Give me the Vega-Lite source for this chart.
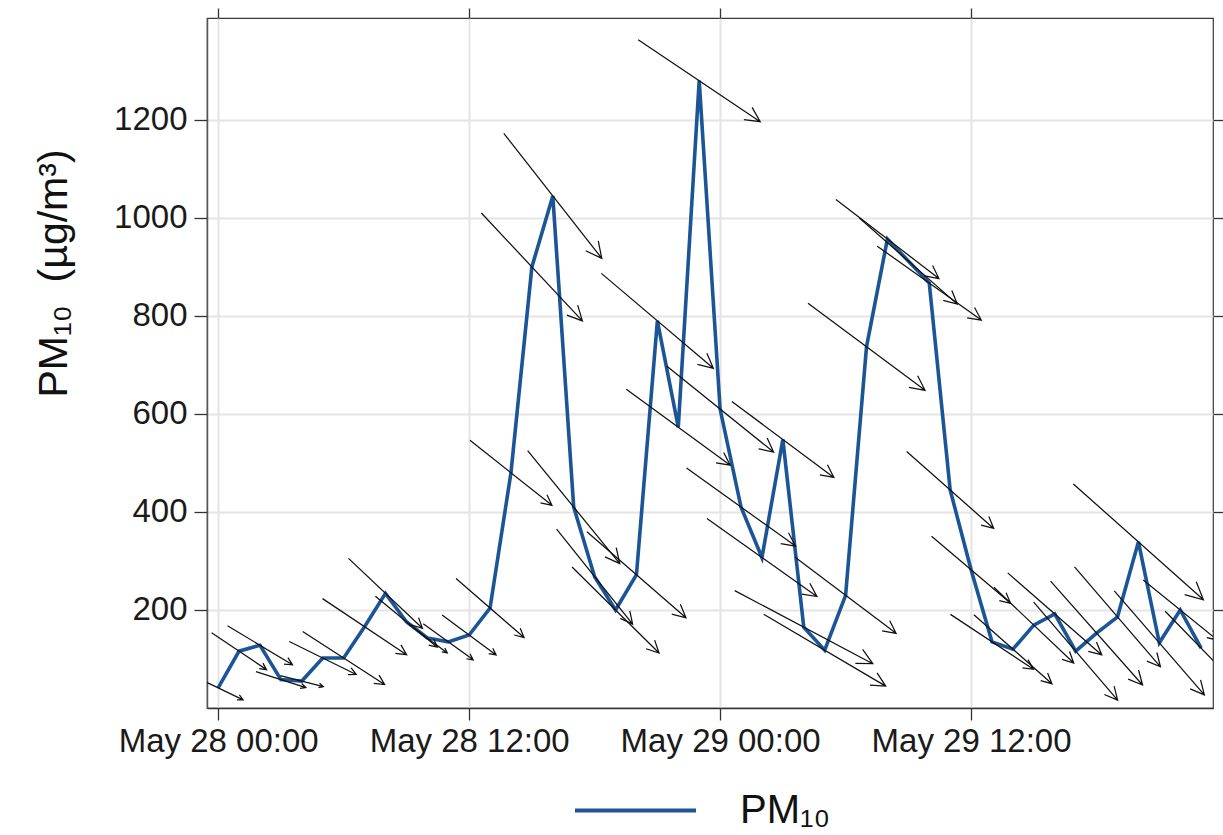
{
  "$schema": "https://vega.github.io/schema/vega-lite/v6.json",
  "width": 1006,
  "height": 690,
  "autosize": {"type": "none"},
  "padding": {"left": 207, "top": 18, "right": 10, "bottom": 127},
  "background": "white",
  "config": {
    "font": "Liberation Sans",
    "view": {"stroke": "#3a3a3a", "strokeWidth": 1.2}
  },
  "data": {
    "values": [
      {"time": "2016-05-28T00:00", "pm10": 41, "ws": 2.77, "wd": 295.6},
      {"time": "2016-05-28T01:00", "pm10": 116, "ws": 3.31, "wd": 303.9},
      {"time": "2016-05-28T02:00", "pm10": 128, "ws": 3.79, "wd": 301.0},
      {"time": "2016-05-28T03:00", "pm10": 58, "ws": 2.62, "wd": 287.7},
      {"time": "2016-05-28T04:00", "pm10": 55, "ws": 2.22, "wd": 284.3},
      {"time": "2016-05-28T05:00", "pm10": 102, "ws": 3.73, "wd": 296.2},
      {"time": "2016-05-28T06:00", "pm10": 102, "ws": 4.88, "wd": 302.9},
      {"time": "2016-05-28T07:00", "pm10": 166, "ws": 5.05, "wd": 303.7},
      {"time": "2016-05-28T08:00", "pm10": 234, "ws": 5.09, "wd": 313.4},
      {"time": "2016-05-28T09:00", "pm10": 176, "ws": 4.01, "wd": 309.4},
      {"time": "2016-05-28T10:00", "pm10": 143, "ws": 2.5, "wd": 306.9},
      {"time": "2016-05-28T11:00", "pm10": 135, "ws": 3.08, "wd": 305.8},
      {"time": "2016-05-28T12:00", "pm10": 149, "ws": 3.36, "wd": 306.5},
      {"time": "2016-05-28T13:00", "pm10": 204, "ws": 4.5, "wd": 310.9},
      {"time": "2016-05-28T14:00", "pm10": 480, "ws": 5.23, "wd": 308.4},
      {"time": "2016-05-28T15:00", "pm10": 900, "ws": 7.39, "wd": 316.9},
      {"time": "2016-05-28T16:00", "pm10": 1045, "ws": 7.94, "wd": 321.9},
      {"time": "2016-05-28T17:00", "pm10": 410, "ws": 7.29, "wd": 320.8},
      {"time": "2016-05-28T18:00", "pm10": 268, "ws": 6.08, "wd": 321.3},
      {"time": "2016-05-28T19:00", "pm10": 200, "ws": 6.12, "wd": 314.7},
      {"time": "2016-05-28T20:00", "pm10": 272, "ws": 6.56, "wd": 311.0},
      {"time": "2016-05-28T21:00", "pm10": 790, "ws": 7.34, "wd": 310.3},
      {"time": "2016-05-28T22:00", "pm10": 573, "ws": 6.44, "wd": 306.2},
      {"time": "2016-05-28T23:00", "pm10": 1280, "ws": 7.35, "wd": 303.9},
      {"time": "2016-05-29T00:00", "pm10": 610, "ws": 6.86, "wd": 308.8},
      {"time": "2016-05-29T01:00", "pm10": 410, "ws": 6.7, "wd": 305.6},
      {"time": "2016-05-29T02:00", "pm10": 307, "ws": 6.74, "wd": 305.3},
      {"time": "2016-05-29T03:00", "pm10": 548, "ws": 6.36, "wd": 306.7},
      {"time": "2016-05-29T04:00", "pm10": 165, "ws": 7.81, "wd": 297.9},
      {"time": "2016-05-29T05:00", "pm10": 118, "ws": 7.08, "wd": 300.5},
      {"time": "2016-05-29T06:00", "pm10": 230, "ws": 6.32, "wd": 307.0},
      {"time": "2016-05-29T07:00", "pm10": 737, "ws": 7.29, "wd": 306.6},
      {"time": "2016-05-29T08:00", "pm10": 957, "ws": 6.49, "wd": 307.5},
      {"time": "2016-05-29T09:00", "pm10": 912, "ws": 6.52, "wd": 311.3},
      {"time": "2016-05-29T10:00", "pm10": 867, "ws": 6.38, "wd": 305.4},
      {"time": "2016-05-29T11:00", "pm10": 445, "ws": 5.81, "wd": 311.5},
      {"time": "2016-05-29T12:00", "pm10": 282, "ws": 5.18, "wd": 310.3},
      {"time": "2016-05-29T13:00", "pm10": 135, "ws": 4.98, "wd": 303.5},
      {"time": "2016-05-29T14:00", "pm10": 120, "ws": 5.21, "wd": 311.5},
      {"time": "2016-05-29T15:00", "pm10": 169, "ws": 5.5, "wd": 313.5},
      {"time": "2016-05-29T16:00", "pm10": 192, "ws": 6.24, "wd": 311.1},
      {"time": "2016-05-29T17:00", "pm10": 116, "ws": 6.45, "wd": 319.4},
      {"time": "2016-05-29T18:00", "pm10": 153, "ws": 6.94, "wd": 318.5},
      {"time": "2016-05-29T19:00", "pm10": 186, "ws": 6.59, "wd": 319.3},
      {"time": "2016-05-29T20:00", "pm10": 339, "ws": 8.71, "wd": 311.7},
      {"time": "2016-05-29T21:00", "pm10": 133, "ws": 6.88, "wd": 319.1},
      {"time": "2016-05-29T22:00", "pm10": 200, "ws": 4.76, "wd": 309.0},
      {"time": "2016-05-29T23:00", "pm10": 122, "ws": 5.16, "wd": 315.8}
    ]
  },
  "resolve": {"axis": {"x": "independent", "y": "independent"}},
  "layer": [
    {
      "mark": {"type": "line", "strokeWidth": 3.6, "strokeJoin": "miter", "clip": true},
      "encoding": {
        "x": {
          "field": "time",
          "type": "temporal",
          "scale": {"domain": [
            {"year": 2016, "month": 5, "date": 27, "hours": 23, "minutes": 28},
            {"year": 2016, "month": 5, "date": 29, "hours": 23, "minutes": 34}
          ]},
          "axis": {
            "orient": "bottom",
            "title": null,
            "values": [
              {"year": 2016, "month": 5, "date": 28, "hours": 0},
              {"year": 2016, "month": 5, "date": 28, "hours": 12},
              {"year": 2016, "month": 5, "date": 29, "hours": 0},
              {"year": 2016, "month": 5, "date": 29, "hours": 12}
            ],
            "format": "%b %d %H:%M",
            "labelFont": "Liberation Sans",
            "labelFontSize": 33,
            "labelColor": "#1a1a1a",
            "labelPadding": 5,
            "labelLimit": 0,
            "labelFlush": false,
            "labelOverlap": false,
            "tickSize": 12,
            "tickColor": "#333333",
            "tickWidth": 1.3,
            "domainColor": "#333333",
            "domainWidth": 1.5,
            "grid": true,
            "gridColor": "#e4e4e4",
            "gridWidth": 2
          }
        },
        "y": {
          "field": "pm10",
          "type": "quantitative",
          "scale": {"domain": [0, 1408], "nice": false, "zero": true},
          "axis": {
            "orient": "left",
            "title": "PM₁₀ \u00a0(µg/m³)",
            "titleFont": "Liberation Sans",
            "titleFontSize": 41,
            "titleFontWeight": "normal",
            "titleColor": "#111111",
            "titleY": 255,
            "titlePadding": 38,
            "values": [200, 400, 600, 800, 1000, 1200],
            "format": "d",
            "labelFont": "Liberation Sans",
            "labelFontSize": 33,
            "labelColor": "#1a1a1a",
            "labelPadding": 7,
            "tickSize": 13,
            "tickColor": "#333333",
            "tickWidth": 1.3,
            "domainColor": "#555555",
            "domainWidth": 1.5,
            "grid": true,
            "gridColor": "#e4e4e4",
            "gridWidth": 2
          }
        },
        "color": {
          "datum": "PM₁₀",
          "type": "nominal",
          "scale": {"range": ["#1c5595"]},
          "legend": {
            "orient": "none",
            "legendX": 366,
            "legendY": 730,
            "title": null,
            "symbolType": "stroke",
            "symbolSize": 14641,
            "symbolStrokeWidth": 4,
            "labelFont": "Liberation Sans",
            "labelFontSize": 40,
            "labelColor": "#111111",
            "labelOffset": 42,
            "labelLimit": 0
          }
        }
      }
    },
    {
      "mark": {
        "type": "point",
        "shape": "M-1,0L1,0M0.8,-0.1L1,0L0.8,0.1",
        "filled": false,
        "stroke": "#111111",
        "strokeWidth": 1.25,
        "opacity": 1,
        "clip": true
      },
      "encoding": {
        "x": {
          "field": "time",
          "type": "temporal",
          "axis": {
            "orient": "top",
            "title": null,
            "labels": false,
            "grid": false,
            "values": [
              {"year": 2016, "month": 5, "date": 28, "hours": 0},
              {"year": 2016, "month": 5, "date": 28, "hours": 12},
              {"year": 2016, "month": 5, "date": 29, "hours": 0},
              {"year": 2016, "month": 5, "date": 29, "hours": 12}
            ],
            "tickSize": 10,
            "tickColor": "#333333",
            "tickWidth": 1.3,
            "domain": false
          }
        },
        "y": {
          "field": "pm10",
          "type": "quantitative",
          "axis": {
            "orient": "right",
            "title": null,
            "labels": false,
            "grid": false,
            "values": [200, 400, 600, 800, 1000, 1200],
            "tickSize": 10,
            "tickColor": "#333333",
            "tickWidth": 1.3,
            "domain": false
          }
        },
        "size": {
          "field": "ws",
          "type": "quantitative",
          "scale": {"type": "pow", "exponent": 2, "domain": [0, 10], "range": [0, 40000]},
          "legend": null
        },
        "angle": {
          "field": "wd",
          "type": "quantitative",
          "scale": {"domain": [0, 360], "range": [90, 450]}
        }
      }
    }
  ]
}
